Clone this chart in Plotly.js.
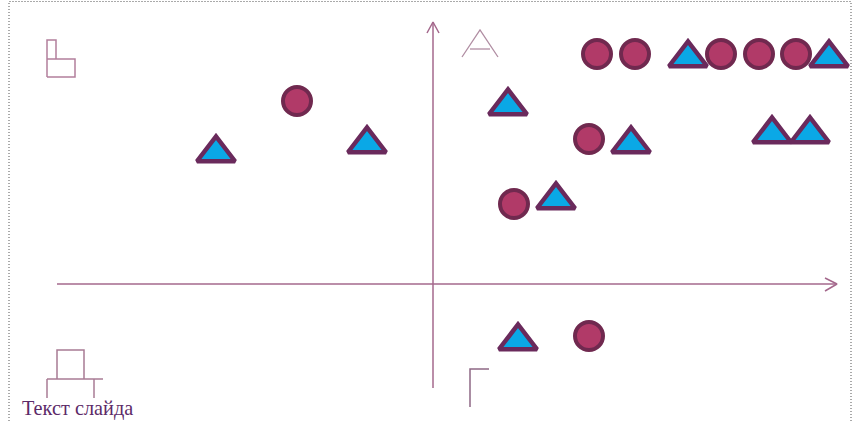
<!DOCTYPE html>
<html>
<head>
<meta charset="utf-8">
<script src="https://cdn.plot.ly/plotly-3.0.1.min.js"></script>
<style>html,body{margin:0;padding:0;background:#fff}</style>
</head>
<body>
<div id="chart" style="width:853px;height:421px"></div>
<script>
var circleX = [297, 589, 514, 597, 635, 721, 759, 796, 589];
var circleY = [101, 139, 204, 54, 54, 54, 54, 54, 336];
var triangleX = [216, 367, 508, 631, 556, 688, 829, 772, 810, 518];
var triangleY = [153, 144, 106, 144, 200, 58, 58, 134, 134, 341];

var axisX = [57, 837, null, 825, 837, 825, null, 433, 433, null, 427, 433, 439];
var axisY = [284, 284, null, 278, 284, 291, null, 388, 22, null, 33, 22, 33];

var glyphBX = [47, 47, 56, 56, null, 47, 75, 75, 47];
var glyphBY = [77, 40, 40, 59, null, 59, 59, 77, 77];
var glyphDX = [57, 57, 84, 84, null, 47, 103, null, 47, 47, null, 94, 94];
var glyphDY = [379, 350, 350, 379, null, 379, 379, null, 379, 398, null, 379, 398];
var glyphAX = [462, 480, 498, null, 470, 490];
var glyphAY = [57, 30, 57, null, 49, 49];
var glyphGX = [489, 470, 470];
var glyphGY = [369, 369, 407];

var borderX = [9, 9, 851, 851];
var borderY = [421, 1.5, 1.5, 421];

var labelText = ['Текст слайда'];
var labelX = [22];
var labelY = [410];

function lines(x, y, color, width, dash) {
  return {x: x, y: y, mode: 'lines', hoverinfo: 'skip', showlegend: false, connectgaps: false,
    line: {color: color, width: width, dash: dash || 'solid'}};
}

var data = [
  lines(borderX, borderY, '#555555', 1, '1px,2px'),
  lines(axisX, axisY, '#a4688c', 1.5),
  lines(glyphBX, glyphBY, '#b27f9c', 1.5),
  lines(glyphDX, glyphDY, '#a87b94', 1.5),
  lines(glyphAX, glyphAY, '#b08da2', 1.3),
  lines(glyphGX, glyphGY, '#8e6885', 1.5),
  {x: circleX, y: circleY, mode: 'markers', hoverinfo: 'skip', showlegend: false,
    marker: {symbol: 'circle', size: 28, color: '#b13a68', line: {color: '#70294f', width: 4}}},
  {x: triangleX, y: triangleY, mode: 'markers', hoverinfo: 'skip', showlegend: false,
    marker: {symbol: 'triangle-up', size: 33, color: '#0aa8e6', line: {color: '#6a2a5c', width: 4.5}}},
  {x: labelX, y: labelY, text: labelText, mode: 'text', textposition: 'middle right', hoverinfo: 'skip', showlegend: false,
    textfont: {family: 'Liberation Serif', size: 20.3, color: '#5c2a68'}}
];

var layout = {
  width: 853, height: 421,
  margin: {l: 0, r: 0, t: 0, b: 0},
  paper_bgcolor: '#ffffff', plot_bgcolor: '#ffffff',
  showlegend: false,
  xaxis: {range: [0, 853], visible: false, fixedrange: true},
  yaxis: {range: [421, 0], visible: false, fixedrange: true}
};

Plotly.newPlot('chart', data, layout, {displayModeBar: false, staticPlot: true});
</script>
</body>
</html>
